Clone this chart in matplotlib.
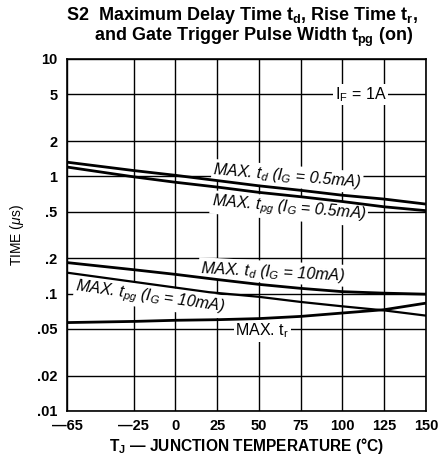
import matplotlib
matplotlib.use("Agg")
import matplotlib.pyplot as plt
import numpy as np

plt.rcParams['font.family'] = ['Liberation Sans', 'DejaVu Sans']
plt.rcParams['mathtext.fontset'] = 'custom'
plt.rcParams['mathtext.rm'] = 'Liberation Sans'
plt.rcParams['mathtext.it'] = 'Liberation Sans:italic'
plt.rcParams['mathtext.bf'] = 'Liberation Sans:bold'

# Data
temps = [-65, -25, 0, 25, 50, 75, 100, 125, 150]
td_05 = [1.32, 1.12, 1.02, 0.92, 0.83, 0.76, 0.69, 0.64, 0.58]
tpg_05 = [1.20, 0.99, 0.89, 0.81, 0.73, 0.67, 0.61, 0.55, 0.51]
td_10 = [0.184, 0.160, 0.146, 0.132, 0.120, 0.111, 0.104, 0.101, 0.099]
tpg_10_t = [-65, 20, 50, 75, 100, 125, 150]
tpg_10 = [0.151, 0.103, 0.094, 0.085, 0.078, 0.072, 0.065]
tr = [0.0567, 0.058, 0.0593, 0.060, 0.0613, 0.064, 0.0684, 0.073, 0.083]

xticks = [-65, -25, 0, 25, 50, 75, 100, 125, 150]
xticklabels = ['\u201465', '\u201425', '0', '25', '50', '75', '100', '125', '150']
yticks = [0.01, 0.02, 0.05, 0.1, 0.2, 0.5, 1, 2, 5, 10]
yticklabels = ['.01', '.02', '.05', '.1', '.2', '.5', '1', '2', '5', '10']

fig = plt.figure(figsize=(4.39, 4.62), dpi=100)
ax = fig.add_axes([0.1526, 0.1104, 0.8174, 0.7619])
ax.set_yscale('log')
ax.set_xlim(-65, 150)
ax.set_ylim(0.01, 10)

ax.set_xticks(xticks)
ax.set_xticklabels(xticklabels, fontsize=10.5, fontweight='bold')
ax.set_yticks(yticks)
ax.set_yticklabels(yticklabels, fontsize=10.5, fontweight='bold')
ax.yaxis.set_minor_locator(matplotlib.ticker.NullLocator())
ax.tick_params(axis='x', length=0, pad=6)
ax.tick_params(axis='y', length=0, pad=7)
ax.grid(True, color='black', linewidth=1.0, zorder=0)
ax.set_axisbelow(True)
for s in ax.spines.values():
    s.set_linewidth(1.2)

lw = 2.0
ax.plot(temps, td_05, color='black', lw=lw, zorder=5)
ax.plot(temps, tpg_05, color='black', lw=lw, zorder=5)
ax.plot(temps, td_10, color='black', lw=lw, zorder=5)
ax.plot(tpg_10_t, tpg_10, color='black', lw=1.6, zorder=5)
ax.plot(temps, tr, color='black', lw=lw, zorder=5)

bb = dict(facecolor='white', edgecolor='none', pad=1.0)
fs = 11.5
ax.text(67, 1.0, 'MAX. $t_d$ ($I_G$ = 0.5mA)', style='italic', fontsize=fs,
        ha='center', va='center', rotation=-5, bbox=bb, zorder=3)
ax.text(68, 0.53, 'MAX. $t_{pg}$ ($I_G$ = 0.5mA)', style='italic', fontsize=fs,
        ha='center', va='center', rotation=-5, bbox=bb, zorder=3)
ax.text(58, 0.153, 'MAX. $t_d$ ($I_G$ = 10mA)', style='italic', fontsize=fs,
        ha='center', va='center', rotation=-3, bbox=bb, zorder=3)
ax.text(-15, 0.094, 'MAX. $t_{pg}$ ($I_G$ = 10mA)', style='italic', fontsize=fs,
        ha='center', va='center', rotation=-8, bbox=bb, zorder=3)
ax.text(52, 0.048, 'MAX. $\\mathrm{t_r}$', fontsize=fs,
        ha='center', va='center', bbox=bb, zorder=3)
ax.text(111, 5.0, '$\\mathrm{I_F}$ = 1A', fontsize=fs,
        ha='center', va='center', bbox=bb, zorder=3)

ax.set_xlabel('$\\mathbf{T_J}$ \u2014 JUNCTION TEMPERATURE (\u00b0C)', fontsize=11.2,
              fontweight='bold')
ax.xaxis.set_label_coords(0.5, -0.1)
ax.xaxis.label.set_va('center')
ax.set_ylabel('TIME ($\\mu$s)', fontsize=10)
ax.yaxis.set_label_coords(-0.115, 0.5)

fig.text(0.952, 0.966, 'S2  Maximum Delay Time $\\mathbf{t_d}$, Rise Time $\\mathbf{t_r}$,',
         fontsize=13, fontweight='bold', ha='right', va='center')
fig.text(0.942, 0.918, 'and Gate Trigger Pulse Width $\\mathbf{t_{pg}}$ (on)',
         fontsize=13, fontweight='bold', ha='right', va='center')

fig.savefig('out.png', dpi=100)
